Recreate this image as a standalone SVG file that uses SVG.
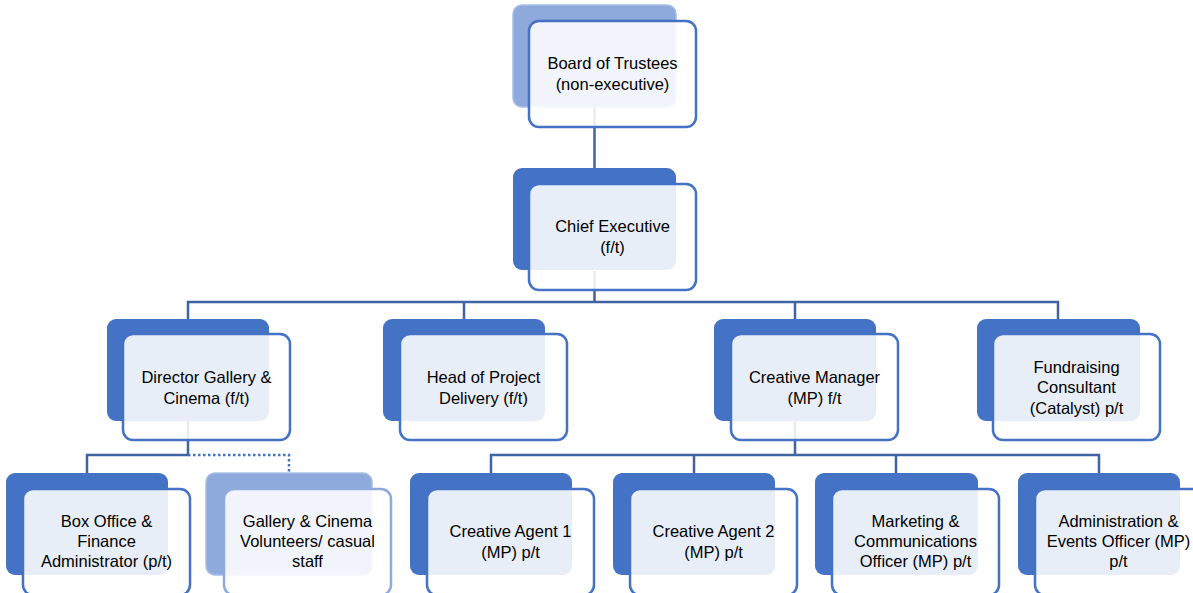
<svg xmlns="http://www.w3.org/2000/svg" width="1193" height="593" viewBox="0 0 1193 593">
<style>
.bk{fill:#4472C4}
.bkl{fill:#8EA9DB;stroke:#A9BEE4;stroke-width:1.5}
.fr{fill:#FFFFFF;fill-opacity:0.88;stroke:#4472C4;stroke-width:2.5}
.frl{fill:#FFFFFF;fill-opacity:0.88;stroke:#8FAADC;stroke-width:2.5}
.t{font-family:"Liberation Sans",Arial,sans-serif;font-size:16.5px;fill:#000000;text-anchor:middle}
.c{fill:none;stroke:#3F63A3;stroke-width:2.5}
.cd{fill:none;stroke:#4472C4;stroke-width:2.5;stroke-dasharray:2.5 2.5}
</style>
<g id="connectors">
<path class="c" d="M594.5 107V168"/>
<path class="c" d="M594.5 271V302M188 319V302H1058V319M464 302V319M795 302V319"/>
<path class="c" d="M188 421V455H87V473"/>
<path class="cd" d="M188 455H289V473"/>
<path class="c" d="M795 421V455M491 473V455H1099V473M694 455V473M896 455V473"/>
</g>
<g id="board">
<rect class="bkl" x="513" y="5" width="163" height="102" rx="9"/>
<rect class="fr" x="529" y="21" width="167" height="106" rx="10"/>
<text class="t" x="612.5" y="69">Board of Trustees</text>
<text class="t" x="612.5" y="90">(non-executive)</text>
</g>
<g id="chief">
<rect class="bk" x="513" y="168" width="163" height="102" rx="9"/>
<rect class="fr" x="529" y="184" width="167" height="106" rx="10"/>
<text class="t" x="612.5" y="232">Chief Executive</text>
<text class="t" x="612.5" y="253">(f/t)</text>
</g>
<g id="director">
<rect class="bk" x="107" y="319" width="162" height="102" rx="9"/>
<rect class="fr" x="123" y="334" width="167" height="106" rx="10"/>
<text class="t" x="206.5" y="383">Director Gallery &amp;</text>
<text class="t" x="206.5" y="404">Cinema (f/t)</text>
</g>
<g id="head">
<rect class="bk" x="383" y="319" width="162" height="102" rx="9"/>
<rect class="fr" x="400" y="334" width="167" height="106" rx="10"/>
<text class="t" x="483.5" y="383">Head of Project</text>
<text class="t" x="483.5" y="404">Delivery (f/t)</text>
</g>
<g id="creative-manager">
<rect class="bk" x="714" y="319" width="162" height="102" rx="9"/>
<rect class="fr" x="731" y="334" width="167" height="106" rx="10"/>
<text class="t" x="814.5" y="383">Creative Manager</text>
<text class="t" x="814.5" y="404">(MP) f/t</text>
</g>
<g id="fundraising">
<rect class="bk" x="977" y="319" width="163" height="102" rx="9"/>
<rect class="fr" x="993" y="334" width="167" height="106" rx="10"/>
<text class="t" x="1076.5" y="373">Fundraising</text>
<text class="t" x="1076.5" y="393">Consultant</text>
<text class="t" x="1076.5" y="414">(Catalyst) p/t</text>
</g>
<g id="box-office">
<rect class="bk" x="6" y="473" width="162" height="102" rx="9"/>
<rect class="fr" x="23" y="489" width="167" height="106" rx="10"/>
<text class="t" x="106.5" y="527">Box Office &amp;</text>
<text class="t" x="106.5" y="547">Finance</text>
<text class="t" x="106.5" y="567">Administrator (p/t)</text>
</g>
<g id="volunteers">
<rect class="bkl" x="206" y="473" width="166" height="102" rx="9"/>
<rect class="frl" x="224" y="489" width="167" height="106" rx="10"/>
<text class="t" x="307.5" y="527">Gallery &amp; Cinema</text>
<text class="t" x="307.5" y="547">Volunteers/ casual</text>
<text class="t" x="307.5" y="567">staff</text>
</g>
<g id="creative-agent-1">
<rect class="bk" x="410" y="473" width="162" height="102" rx="9"/>
<rect class="fr" x="427" y="489" width="167" height="106" rx="10"/>
<text class="t" x="510.5" y="537">Creative Agent 1</text>
<text class="t" x="510.5" y="558">(MP) p/t</text>
</g>
<g id="creative-agent-2">
<rect class="bk" x="613" y="473" width="162" height="102" rx="9"/>
<rect class="fr" x="630" y="489" width="167" height="106" rx="10"/>
<text class="t" x="713.5" y="537">Creative Agent 2</text>
<text class="t" x="713.5" y="558">(MP) p/t</text>
</g>
<g id="marketing">
<rect class="bk" x="815" y="473" width="163" height="102" rx="9"/>
<rect class="fr" x="832" y="489" width="167" height="106" rx="10"/>
<text class="t" x="915.5" y="527">Marketing &amp;</text>
<text class="t" x="915.5" y="547">Communications</text>
<text class="t" x="915.5" y="567">Officer (MP) p/t</text>
</g>
<g id="administration">
<rect class="bk" x="1018" y="473" width="162" height="102" rx="9"/>
<rect class="fr" x="1035" y="489" width="167" height="106" rx="10"/>
<text class="t" x="1118.5" y="527">Administration &amp;</text>
<text class="t" x="1118.5" y="547">Events Officer (MP)</text>
<text class="t" x="1118.5" y="567">p/t</text>
</g>
</svg>
